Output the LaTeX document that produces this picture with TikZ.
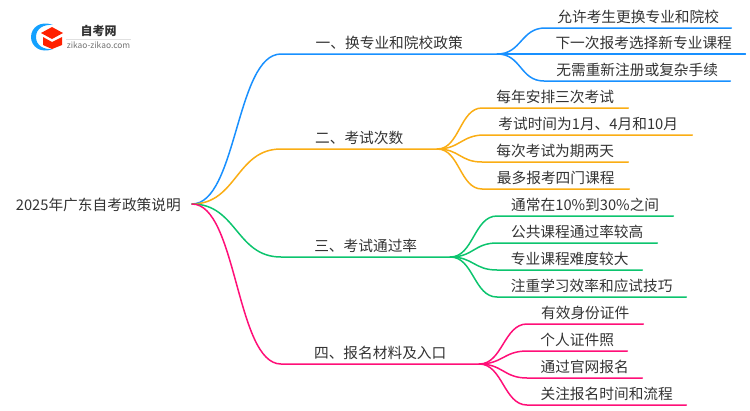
\documentclass[tikz,border=0pt]{standalone}
\usepackage{fontspec}
\setmainfont{Noto Sans CJK SC}
\usepackage{xcolor}
\usetikzlibrary{positioning}
\definecolor{mBlueLine}{HTML}{1890FF}
\definecolor{mOrangeLine}{HTML}{FAAD14}
\definecolor{mGreenLine}{HTML}{0CC46E}
\definecolor{mPinkLine}{HTML}{FF0F78}
\definecolor{mText}{HTML}{333333}
\tikzstyle{mRoot} = [anchor=east, inner ysep=0pt, inner xsep=11pt, text height=14pt, text depth=2pt, text=mText, font=\fontsize{14.7}{17}\selectfont]
\tikzstyle{mLeaf} = [anchor=south west, inner sep=0pt, text centered, text height=12pt, text depth=5pt, text=mText, font=\fontsize{14.7}{17}\selectfont]
\tikzstyle{mLine} = [line width=1.5pt, line cap=round]
\tikzset{mLink/.style={to path={.. controls +(#1,0) and +(-#1,0) .. (\tikztotarget)}}}

\begin{document}
\begin{tikzpicture}[x=1pt, y=1pt]
    \useasboundingbox (0,0) rectangle (750,-410);
    % logo
    \fill [mBlueLine!85!cyan] (53,-25) .. controls (40,-20) and (31,-28) .. (31,-37) .. controls (31,-46) and (40,-54) .. (53,-49) .. controls (43,-50) and (36,-45) .. (36,-37) .. controls (36,-29) and (43,-24) .. (53,-25) -- cycle;
    \fill [red!75!orange] (52,-27) -- (63,-33) -- (52,-39) -- (41,-33) -- cycle;
    \fill [red!75!orange] (43,-37) -- (52,-42) -- (62,-37) -- (62,-45) -- (52,-49) -- (43,-45) -- cycle;
    \node (logoName) [inner sep=0pt, text=mText, font=\fontsize{12}{13}\selectfont\bfseries] at (98.5,-31) {自考网};
    \node (logoSite) [inner sep=0pt, text=black!55, font=\fontsize{8.4}{9}\selectfont] at (98.5,-45) {zikao-zikao.com};
    \draw [black!12, line width=0.6pt] (66,-39) -- (131,-39);

    \node (root) [mRoot] at (192,-204) {2025年广东自考政策说明};

    \node (change) [mLeaf, minimum width=216] at (281,-54) {一、换专业和院校政策};
    \node (changeA) [mLeaf, minimum width=186] at (545,-28) {允许考生更换专业和院校};
    \node (changeB) [mLeaf, minimum width=203] at (542,-54) {下一次报考选择新专业课程};
    \node (changeC) [mLeaf, minimum width=186] at (544,-81) {无需重新注册或复杂手续};

    \node (times) [mLeaf, minimum width=156] at (281,-149) {二、考试次数};
    \node (timesA) [mLeaf, minimum width=146] at (482,-108) {每年安排三次考试};
    \node (timesB) [mLeaf, minimum width=208] at (484,-135) {考试时间为1月、4月和10月};
    \node (timesC) [mLeaf, minimum width=146] at (482,-162) {每次考试为期两天};
    \node (timesD) [mLeaf, minimum width=147] at (482,-189) {最多报考四门课程};

    \node (rate) [mLeaf, minimum width=169] at (281,-257) {三、考试通过率};
    \node (rateA) [mLeaf, minimum width=176] at (497,-216) {通常在10\%到30\%之间};
    \node (rateB) [mLeaf, minimum width=160] at (497,-243) {公共课程通过率较高};
    \node (rateC) [mLeaf, minimum width=145] at (497,-270) {专业课程难度较大};
    \node (rateD) [mLeaf, minimum width=189] at (497,-297) {注重学习效率和应试技巧};

    \node (apply) [mLeaf, minimum width=198] at (281,-364) {四、报名材料及入口};
    \node (applyA) [mLeaf, minimum width=116] at (527,-324) {有效身份证件};
    \node (applyB) [mLeaf, minimum width=100] at (527,-351) {个人证件照};
    \node (applyC) [mLeaf, minimum width=115] at (527,-378) {通过官网报名};
    \node (applyD) [mLeaf, minimum width=159] at (527,-405) {关注报名时间和流程};

    \draw [mLine, mBlueLine] (root.east) to [mLink=45] (change.south west) -- (change.south east);
    \draw [mLine, mBlueLine] (change.south east) to [mLink=24] (changeA.south west) -- (changeA.south east);
    \draw [mLine, mBlueLine] (change.south east) -- (changeB.south west) -- (changeB.south east);
    \draw [mLine, mBlueLine] (change.south east) to [mLink=24] (changeC.south west) -- (changeC.south east);

    \draw [mLine, mOrangeLine] (root.east) to [mLink=45] (times.south west) -- (times.south east);
    \draw [mLine, mOrangeLine] (times.south east) to [mLink=22] (timesA.south west) -- (timesA.south east);
    \draw [mLine, mOrangeLine] (times.south east) to [mLink=22] (timesB.south west) -- (timesB.south east);
    \draw [mLine, mOrangeLine] (times.south east) to [mLink=22] (timesC.south west) -- (timesC.south east);
    \draw [mLine, mOrangeLine] (times.south east) to [mLink=22] (timesD.south west) -- (timesD.south east);

    \draw [mLine, mGreenLine] (root.east) to [mLink=45] (rate.south west) -- (rate.south east);
    \draw [mLine, mGreenLine] (rate.south east) to [mLink=23] (rateA.south west) -- (rateA.south east);
    \draw [mLine, mGreenLine] (rate.south east) to [mLink=23] (rateB.south west) -- (rateB.south east);
    \draw [mLine, mGreenLine] (rate.south east) to [mLink=23] (rateC.south west) -- (rateC.south east);
    \draw [mLine, mGreenLine] (rate.south east) to [mLink=23] (rateD.south west) -- (rateD.south east);

    \draw [mLine, mPinkLine] (root.east) to [mLink=45] (apply.south west) -- (apply.south east);
    \draw [mLine, mPinkLine] (apply.south east) to [mLink=23] (applyA.south west) -- (applyA.south east);
    \draw [mLine, mPinkLine] (apply.south east) to [mLink=23] (applyB.south west) -- (applyB.south east);
    \draw [mLine, mPinkLine] (apply.south east) to [mLink=23] (applyC.south west) -- (applyC.south east);
    \draw [mLine, mPinkLine] (apply.south east) to [mLink=23] (applyD.south west) -- (applyD.south east);
\end{tikzpicture}
\end{document}
